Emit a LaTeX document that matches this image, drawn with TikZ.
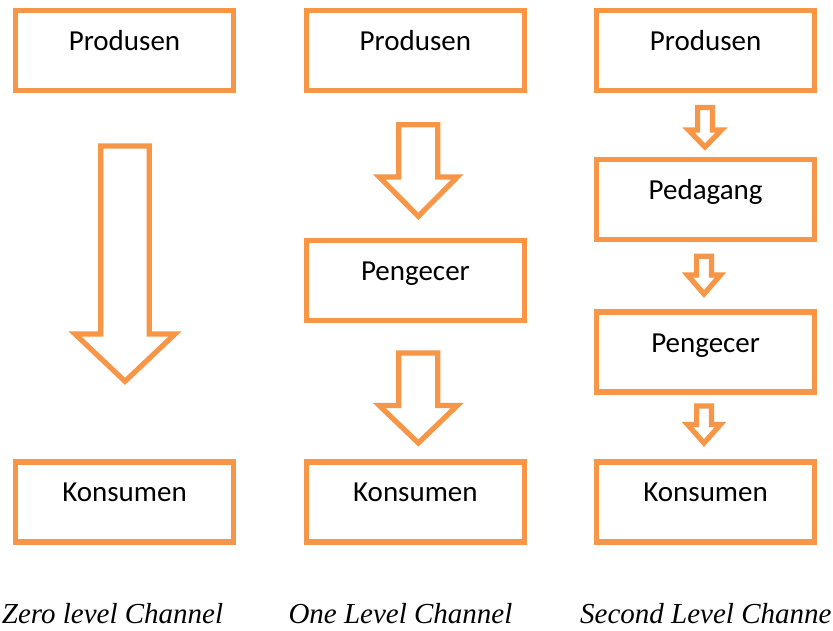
\documentclass[tikz,border=0pt]{standalone}
\usepackage{fontspec}
\setmainfont{Carlito}
\newfontfamily\capfont{Liberation Serif}
\definecolor{orng}{HTML}{F79646}
\tikzset{
  box/.style={draw=orng, fill=white, line width=5.2pt, minimum width=218.5pt,
    minimum height=80pt, inner sep=0pt, text height=15pt, text depth=15pt,
    font=\fontsize{29pt}{34pt}\selectfont},
  blockarrow/.style={draw=orng, fill=white, line width=5.2pt, line join=miter, miter limit=10},
  caption/.style={anchor=base west, inner sep=0pt,
    font=\capfont\itshape\fontsize{29pt}{34pt}\selectfont}
}
% #1 x centre, #2 shaft half width, #3 head half width, #4 top, #5 shoulder, #6 tip
\newcommand{\blockarr}[6]{%
  \draw[blockarrow] (#1-#2,-#4) -- (#1+#2,-#4) -- (#1+#2,-#5) -- (#1+#3,-#5)
    -- (#1,-#6) -- (#1-#3,-#5) -- (#1-#2,-#5) -- cycle;}
\begin{document}
\begin{tikzpicture}[x=1pt,y=1pt]
\fill[white] (0,0) rectangle (833,-630);
\useasboundingbox (0,0) rectangle (833,-630);

% column 1
\node[box] (p1) at (124.5,-50.3) {Produsen};
\node[box] (k1) at (124.5,-501.9) {Konsumen};
\blockarr{125}{24.2}{50}{146}{334}{381.3}

% column 2
\node[box] (p2) at (415.4,-50.8) {Produsen};
\node[box] (g2) at (415.4,-280.5) {Pengecer};
\node[box] (k2) at (415.4,-501.9) {Konsumen};
\blockarr{418.3}{19.5}{39}{124.7}{177}{216.3}
\blockarr{418.3}{19.5}{39}{353}{405.5}{443}

% column 3
\node[box] (p3) at (705.6,-50.8) {Produsen};
\node[box] (d3) at (705.6,-199.7) {Pedagang};
\node[box] (g3) at (705.6,-352) {Pengecer};
\node[box] (k3) at (705.6,-501.9) {Konsumen};
\blockarr{705}{7.4}{16.5}{107.5}{130}{147}
\blockarr{704}{7.4}{16.5}{256.3}{275}{294}
\blockarr{704}{7.4}{16.5}{406}{424.5}{443}

% captions
\node[caption] (c1) at (1.7,-623) {Zero level Channel};
\node[caption] (c2) at (288.3,-623) {One Level Channel};
\node[caption] (c3) at (580,-623) {Second Level Channe};
\end{tikzpicture}
\end{document}
